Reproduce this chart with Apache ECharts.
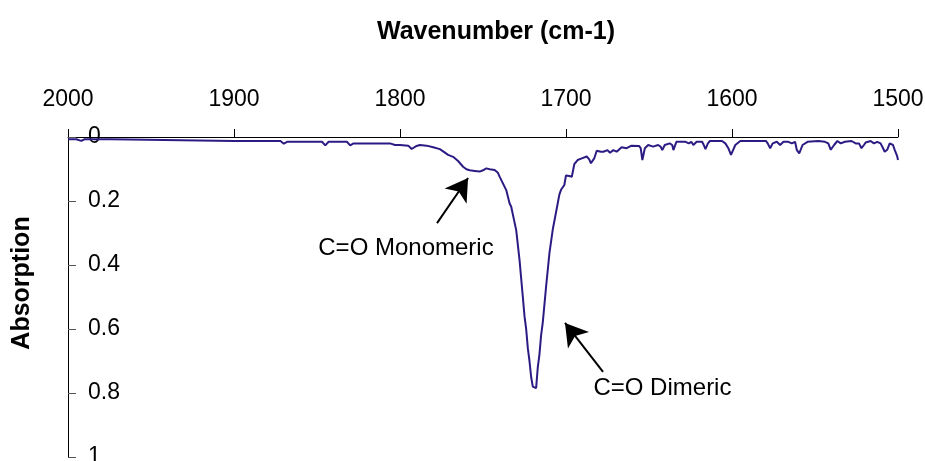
<!DOCTYPE html>
<html>
<head>
<meta charset="utf-8">
<script src="https://cdn.jsdelivr.net/npm/echarts@6/dist/echarts.min.js"></script>
<style>
html,body{margin:0;padding:0;background:#fff;}
#chart{width:925px;height:461px;}
</style>
</head>
<body>
<div id="chart"></div>
<script>
// Wavenumber (cm-1) sample positions
var wavenumbers = [
2000,1995,1992,1990,1974,1973,1900,1872,1870,1868,1847,1845,1843,1832,1830,1828,1806,1803,1800,1795,1793,1790,1788,1784,1780,1776,1774,1771,1768,1765,1762,1760,1758,1755,1752,1750,1748,1746,1743,1741,1740,1738,1736,1734,1733,1730,1728,1726,1725,1724,1723,1722,1721,1720,1719,1718,1717.5,1717,1716,1715,1714,1712,1710,1708,1706,1704,1703,1701,1700,1698,1696.5,1695,1693,1690.5,1687.5,1686,1685,1684,1683,1681.5,1679,1677.5,1675,1673.5,1671.5,1669.5,1666.5,1663.5,1660.5,1656,1655,1654,1652.5,1650.5,1647.5,1644.5,1643,1642,1640.5,1637.5,1636,1635.3,1633.5,1628,1626,1624.5,1623.3,1621.3,1618,1617,1616,1614.5,1613.3,1606,1604,1602.2,1600.6,1598,1595,1579.5,1578.5,1577,1575.5,1573,1571,1569,1566,1564,1562,1561,1559.5,1557.5,1554.5,1548,1544,1542,1540.5,1539.5,1538.5,1536.5,1534.5,1532,1528,1525.5,1523.5,1522,1520.5,1519.5,1516.5,1514.5,1512.5,1510.5,1509,1508,1506.5,1505,1503,1502,1500.5,1500
];
// Absorption values
var absorption = [
0.007,0.007,0.012,0.007,0.007,0.0125,0.0125,0.0125,0.021,0.015,0.015,0.026,0.015,0.015,0.026,0.02,0.02,0.025,0.025,0.027,0.0375,0.028,0.025,0.027,0.032,0.038,0.045,0.056,0.062,0.075,0.093,0.101,0.104,0.106,0.108,0.104,0.098,0.101,0.103,0.112,0.124,0.145,0.166,0.207,0.218,0.291,0.384,0.5,0.56,0.6,0.66,0.70,0.75,0.78,0.785,0.785,0.78,0.72,0.68,0.62,0.58,0.468,0.364,0.29,0.235,0.18,0.165,0.15,0.12,0.122,0.124,0.085,0.072,0.067,0.061,0.07,0.082,0.082,0.067,0.043,0.046,0.046,0.041,0.049,0.041,0.046,0.032,0.035,0.027,0.028,0.035,0.072,0.035,0.025,0.03,0.025,0.03,0.041,0.025,0.02,0.025,0.041,0.015,0.015,0.02,0.015,0.025,0.015,0.015,0.025,0.038,0.02,0.0125,0.0125,0.02,0.035,0.056,0.025,0.0125,0.0125,0.02,0.035,0.02,0.015,0.025,0.015,0.015,0.02,0.015,0.04,0.051,0.025,0.015,0.0125,0.015,0.02,0.04,0.046,0.025,0.0125,0.02,0.015,0.0125,0.02,0.02,0.035,0.025,0.017,0.0125,0.02,0.015,0.02,0.035,0.046,0.04,0.02,0.025,0.04,0.06,0.072
];
// Axis ticks
var xTicks = {min: 1500, max: 2000, interval: 100};
var yTicks = {min: 0, max: 1, interval: 0.2};
// Annotations: label text, label anchor [wn, abs], arrow tail, arrow tip
var annotationLabels = ['C=O Monomeric', 'C=O Dimeric'];
var annotationTextAt = [[1796.4, 0.347], [1641.9, 0.784]];
var arrowTails = [[1777.7, 0.269], [1677.7, 0.734]];
var arrowTips = [[1759.0, 0.128], [1700.6, 0.581]];

var seriesData = wavenumbers.map(function (w, i) { return [w, absorption[i]]; });

var chart = echarts.init(document.getElementById('chart'), null, {renderer: 'canvas'});
var font = 'Liberation Sans, Arial, sans-serif';

chart.setOption({
  animation: false,
  backgroundColor: '#ffffff',
  grid: {left: 68, right: 27, top: 137, bottom: 4, containLabel: false, outerBoundsMode: 'none'},
  xAxis: {
    type: 'value', position: 'top', inverse: true,
    min: xTicks.min, max: xTicks.max, interval: xTicks.interval,
    axisLine: {show: true, onZero: false, lineStyle: {color: '#000', width: 1}},
    axisTick: {show: true, inside: false, length: 8, lineStyle: {color: '#000'}},
    axisLabel: {show: true, margin: 26, color: '#000', fontSize: 23, fontFamily: font,
      formatter: function (v) { return String(v); }},
    splitLine: {show: false}
  },
  yAxis: {
    type: 'value', inverse: true,
    min: yTicks.min, max: yTicks.max, interval: yTicks.interval,
    axisLine: {show: true, onZero: false, lineStyle: {color: '#000', width: 1}},
    axisTick: {show: true, inside: true, length: 8, lineStyle: {color: '#555'}},
    axisLabel: {show: true, inside: true, margin: 20, color: '#000', fontSize: 23, fontFamily: font,
      formatter: function (v) { return String(Math.round(v * 10) / 10); }},
    splitLine: {show: false}
  },
  graphic: [
    {type: 'text', x: 496, y: 32, style: {text: 'Wavenumber (cm-1)', fontSize: 25, fontWeight: 'bold', fontFamily: font, fill: '#000', textAlign: 'center', textVerticalAlign: 'middle'}},
    {type: 'text', rotation: Math.PI / 2, x: 22, y: 283, style: {text: 'Absorption', fontSize: 25, fontWeight: 'bold', fontFamily: font, fill: '#000', textAlign: 'center', textVerticalAlign: 'middle'}}
  ],
  series: [{
    type: 'line',
    data: seriesData,
    showSymbol: false,
    symbol: 'none',
    lineStyle: {color: '#2d1b84', width: 2},
    z: 3,
    markLine: {
      silent: true,
      symbol: ['none', 'arrow'],
      symbolSize: [20, 22],
      label: {show: false},
      lineStyle: {color: '#000', width: 2, type: 'solid'},
      data: arrowTails.map(function (t, i) { return [{coord: t}, {coord: arrowTips[i]}]; })
    },
    markPoint: {
      silent: true,
      symbol: 'circle',
      symbolSize: 0,
      label: {show: true, position: 'inside', color: '#000', fontSize: 24, fontFamily: font},
      data: annotationLabels.map(function (t, i) { return {coord: annotationTextAt[i], value: t, label: {formatter: t}}; })
    }
  }]
});
</script>
</body>
</html>
